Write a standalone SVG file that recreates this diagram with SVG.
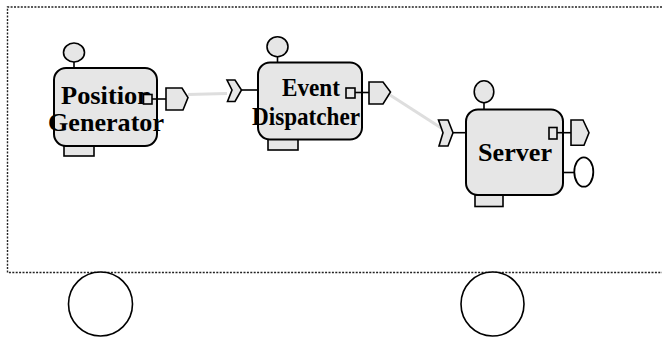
<svg xmlns="http://www.w3.org/2000/svg" width="662" height="337" viewBox="0 0 662 337">
  <style>
    .frame { fill: none; stroke: #222; stroke-width: 1.4; stroke-dasharray: 2 1.4; }
    .body { fill: #e6e6e6; stroke: #000; stroke-width: 2; }
    .part { fill: #e6e6e6; stroke: #000; stroke-width: 1.6; }
    .port { fill: #e6e6e6; stroke: #000; stroke-width: 1.6; }
    .stem { stroke: #000; stroke-width: 1.6; fill: none; }
    .ring { fill: #fff; stroke: #000; stroke-width: 1.8; }
    .wheel { fill: #fff; stroke: #000; stroke-width: 1.6; }
    .link { stroke: #dedede; stroke-width: 3; fill: none; }
    .label { font-family: "Liberation Serif", "Times New Roman", serif; font-weight: bold; font-size: 26px; fill: #000; }
  </style>

  <rect width="662" height="337" fill="#fff"/>

  <!-- dotted enclosure, open to the right -->
  <path class="frame" d="M662,7 H7.5 V272.5 H662"/>

  <!-- wheels below the enclosure -->
  <ellipse class="wheel" cx="100.5" cy="304" rx="32" ry="32"/>
  <ellipse class="wheel" cx="492.5" cy="304" rx="31.5" ry="32"/>

  <g id="connectors">
    <line class="link" x1="188" y1="94.5" x2="227" y2="93.5"/>
    <line class="link" x1="390" y1="95" x2="442" y2="128.5"/>
  </g>

  <g id="position-generator">
    <line class="stem" x1="74" y1="62" x2="74" y2="68"/>
    <ellipse class="part" cx="74" cy="52.5" rx="10.5" ry="9.5"/>
    <rect class="part" x="64" y="145.5" width="30" height="10.5"/>
    <rect class="body" x="54" y="68" width="103" height="78" rx="12"/>
    <text class="label" x="61" y="103.5" textLength="91" lengthAdjust="spacingAndGlyphs">Position</text>
    <text class="label" x="48" y="131" textLength="116" lengthAdjust="spacingAndGlyphs">Generator</text>
    <line class="stem" x1="152" y1="99" x2="166" y2="99"/>
    <rect class="port" x="143.5" y="94.5" width="8.5" height="9.5"/>
    <polygon class="port" points="166,88 182,88 188,97.5 183,110 166,110"/>
  </g>

  <g id="event-dispatcher">
    <line class="stem" x1="277.5" y1="56.5" x2="277.5" y2="62.5"/>
    <ellipse class="part" cx="277.5" cy="46.7" rx="10.5" ry="10"/>
    <rect class="part" x="268" y="139" width="30" height="11"/>
    <line class="stem" x1="242" y1="90" x2="258" y2="90"/>
    <polygon class="port" points="227,80 235,80 241.5,90 235,101.5 227.5,101.5 232,90"/>
    <rect class="body" x="258" y="62.5" width="104" height="77" rx="12"/>
    <text class="label" x="282" y="96" textLength="58" lengthAdjust="spacingAndGlyphs">Event</text>
    <text class="label" x="252" y="125" textLength="108" lengthAdjust="spacingAndGlyphs">Dispatcher</text>
    <line class="stem" x1="355" y1="92.5" x2="369" y2="92.5"/>
    <rect class="port" x="346" y="88" width="9" height="10"/>
    <polygon class="port" points="369,82 383,82 390.5,92 383,104 369,104"/>
  </g>

  <g id="server">
    <line class="stem" x1="484" y1="102.5" x2="484" y2="109.5"/>
    <ellipse class="part" cx="484" cy="91.7" rx="9.8" ry="11"/>
    <rect class="part" x="475" y="195" width="28" height="11.5"/>
    <line class="stem" x1="453" y1="132.7" x2="466" y2="132.7"/>
    <polygon class="port" points="438.5,120 448,120 453,132.7 448,146 439,146 443,132.7"/>
    <rect class="body" x="466" y="109.5" width="97" height="85.5" rx="12"/>
    <text class="label" x="478" y="161" textLength="74" lengthAdjust="spacingAndGlyphs">Server</text>
    <line class="stem" x1="557" y1="132.7" x2="571" y2="132.7"/>
    <rect class="port" x="549" y="127.5" width="8" height="11.5"/>
    <polygon class="port" points="571,120 583,120 589,132.7 584,145.3 571,145.3"/>
    <line class="stem" x1="563" y1="172.5" x2="574" y2="172.5"/>
    <ellipse class="ring" cx="583.8" cy="172" rx="9.5" ry="14.7"/>
  </g>
</svg>
